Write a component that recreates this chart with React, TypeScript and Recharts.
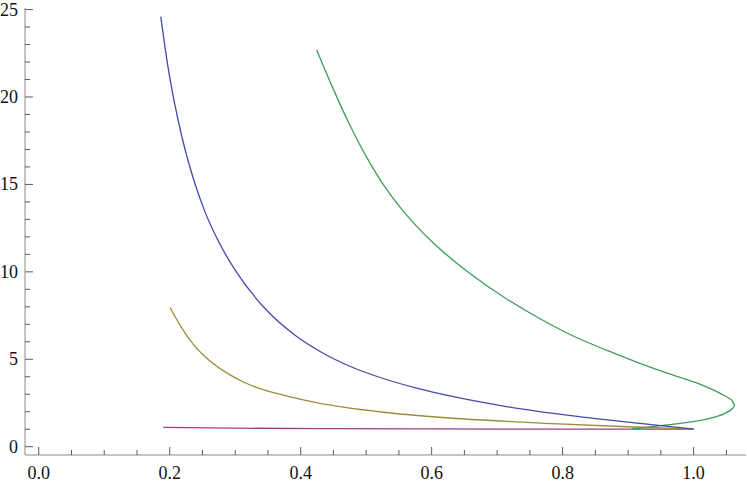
import React from 'react';
import { LineChart, Line, XAxis, YAxis } from 'recharts';

// curve samples (x, y)
const blueX = [0.1863, 0.1979, 0.208, 0.2183, 0.2284, 0.2386, 0.2539, 0.2742, 0.2997, 0.348, 0.394, 0.435, 0.475, 0.526, 0.577, 0.628, 0.714, 0.816, 0.918, 1.0];
const blueY = [24.6, 21.6, 19.53, 17.77, 16.31, 15.04, 13.43, 11.76, 10.11, 7.8, 6.3, 5.33, 4.6, 3.9, 3.35, 2.9, 2.295, 1.757, 1.329, 1.0];

const oliveX = [0.2005, 0.2157, 0.236, 0.2615, 0.287, 0.3124, 0.3379, 0.384, 0.424, 0.526, 0.628, 0.765, 0.918, 1.0];
const oliveY = [7.96, 6.95, 5.85, 4.9, 4.22, 3.7, 3.32, 2.85, 2.52, 1.97, 1.64, 1.353, 1.111, 1.0];

// this one folds back on itself, so it is kept in path order
const greenX = [0.4244, 0.4498, 0.475, 0.5008, 0.526, 0.5516, 0.6025, 0.6534, 0.7145, 0.7654, 0.816, 0.867, 0.918, 0.969, 1.0096, 1.04, 1.058, 1.062, 1.055, 1.035, 0.9994, 0.9588, 0.928, 0.906];
const greenY = [22.7, 20.45, 18.4, 16.55, 15.0, 13.7, 11.65, 10.05, 8.45, 7.32, 6.33, 5.52, 4.77, 4.09, 3.58, 3.06, 2.67, 2.35, 2.05, 1.72, 1.43, 1.24, 1.11, 1.02];

const magentaX = [0.19, 0.3, 0.45, 0.6, 0.8, 1.0];
const magentaY = [1.11, 1.06, 1.03, 1.015, 1.005, 1.0];

const xTicks = [0, 0.05, 0.1, 0.15, 0.2, 0.25, 0.3, 0.35, 0.4, 0.45, 0.5, 0.55, 0.6, 0.65, 0.7, 0.75, 0.8, 0.85, 0.9, 0.95, 1.0, 1.05];
const yTicks = [0, 1, 2, 3, 4, 5, 6, 7, 8, 9, 10, 11, 12, 13, 14, 15, 16, 17, 18, 19, 20, 21, 22, 23, 24, 25];
const xMajorStep = 0.2;
const yMajorStep = 5;

const xDomain = [-0.021, 1.08];
const yDomain = [-0.475, 25.09];

const toPoints = (xs: number[], ys: number[]) => xs.map((x, i) => ({ x, y: ys[i] }));

const blueData = toPoints(blueX, blueY);
const oliveData = toPoints(oliveX, oliveY);
const greenData = toPoints(greenX, greenY);
const magentaData = toPoints(magentaX, magentaY);

const FONT = '"Liberation Serif", "Times New Roman", serif';
const FRAME = '#8a8a8a';
const TICK = '#5a5a5a';
const labelStyle = { fontFamily: FONT, fontSize: 18, fill: '#111' };

const isMajor = (v: number, step: number) => Math.abs(v / step - Math.round(v / step)) < 1e-6;

const BottomTick = ({ x, y, payload }: any) => {
  const major = isMajor(payload.value, xMajorStep);
  return (
    <g>
      <line x1={x} y1={y} x2={x} y2={y - (major ? 8 : 5)} stroke={TICK} />
      {major && (
        <text x={x} y={y + 24} textAnchor="middle" fontFamily={FONT} style={labelStyle}>
          {payload.value.toFixed(1)}
        </text>
      )}
    </g>
  );
};

const TopTick = ({ x, y, payload }: any) => {
  const major = isMajor(payload.value, xMajorStep);
  return <line x1={x} y1={y} x2={x} y2={y + (major ? 8 : 5)} stroke={TICK} />;
};

const LeftTick = ({ x, y, payload }: any) => {
  const major = isMajor(payload.value, yMajorStep);
  return (
    <g>
      <line x1={x} y1={y} x2={x + (major ? 8 : 5)} y2={y} stroke={TICK} />
      {major && (
        <text x={x - 7} y={y + 6} textAnchor="end" fontFamily={FONT} style={labelStyle}>
          {payload.value}
        </text>
      )}
    </g>
  );
};

const RightTick = ({ x, y, payload }: any) => {
  const major = isMajor(payload.value, yMajorStep);
  return <line x1={x} y1={y} x2={x - (major ? 8 : 5)} y2={y} stroke={TICK} />;
};

export default function App() {
  return (
    <div style={{ position: 'absolute', left: 0, top: 0, background: '#fff', fontFamily: FONT }}>
      <LineChart width={747} height={482} margin={{ top: 8, right: 1, bottom: 0, left: 0 }}>
        <XAxis
          type="number"
          dataKey="x"
          domain={xDomain}
          allowDataOverflow
          ticks={xTicks}
          interval={0}
          height={27}
          tickSize={0}
          tickMargin={0}
          tickLine={false}
          axisLine={{ stroke: FRAME }}
          tick={<BottomTick />}
        />
        <XAxis
          xAxisId="top"
          orientation="top"
          type="number"
          dataKey="x"
          domain={xDomain}
          allowDataOverflow
          ticks={xTicks}
          interval={0}
          height={0}
          tickSize={0}
          tickMargin={0}
          tickLine={false}
          axisLine={{ stroke: FRAME }}
          tick={<TopTick />}
        />
        <YAxis
          type="number"
          domain={yDomain}
          allowDataOverflow
          ticks={yTicks}
          interval={0}
          width={25}
          tickSize={0}
          tickMargin={0}
          tickLine={false}
          axisLine={{ stroke: FRAME }}
          tick={<LeftTick />}
        />
        <YAxis
          yAxisId="right"
          orientation="right"
          type="number"
          domain={yDomain}
          allowDataOverflow
          ticks={yTicks}
          interval={0}
          width={0}
          tickSize={0}
          tickMargin={0}
          tickLine={false}
          axisLine={{ stroke: FRAME }}
          tick={<RightTick />}
        />
        <Line data={magentaData} dataKey="y" type="monotoneX" stroke="#a23f76" strokeWidth={1.3} dot={false} isAnimationActive={false} />
        <Line data={oliveData} dataKey="y" type="monotoneX" stroke="#9c8c3a" strokeWidth={1.3} dot={false} isAnimationActive={false} />
        <Line data={greenData} dataKey="y" type="monotoneY" stroke="#3f9e5a" strokeWidth={1.3} dot={false} isAnimationActive={false} />
        <Line data={blueData} dataKey="y" type="monotoneX" stroke="#4848aa" strokeWidth={1.3} dot={false} isAnimationActive={false} />
      </LineChart>
    </div>
  );
}
